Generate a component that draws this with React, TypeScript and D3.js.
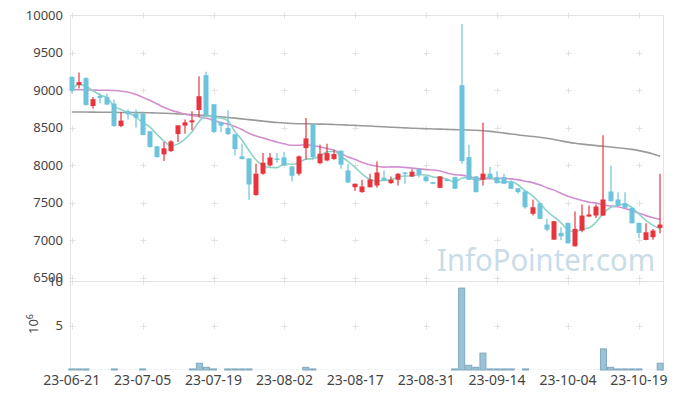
import React from 'react';
import * as d3 from 'd3';

const W = 673;
const H = 399;

const open = [9175,9068,9158,8787,8921,8904,8819,8520,8716,8686,8686,8449,8249,8142,8186,8413,8525,8569,8734,9198,8810,8573,8493,8409,8115,8088,7600,7884,7994,8088,8101,7981,7884,8226,8543,8025,8061,8079,8191,7928,7704,7638,7704,7727,7830,7758,7803,7901,7848,7945,7848,7771,7696,7807,7838,9064,8105,7848,7803,7884,7838,7838,7771,7691,7647,7349,7490,7206,7005,7095,7228,6916,7125,7313,7326,7326,7647,7540,7490,7429,7228,7001,7037,7161];
const high = [9185,9234,9170,8908,8953,8953,8873,8707,8739,8739,8700,8455,8255,8306,8329,8529,8606,8716,9184,9242,8815,8580,8730,8415,8285,8092,8017,8159,8159,8159,8172,7985,8128,8627,8548,8271,8285,8204,8195,8017,7755,7803,7884,8048,7928,7848,7890,7905,7945,7950,7852,7775,7852,7812,7842,9880,8271,7852,8565,7972,7918,7884,7794,7695,7650,7540,7495,7282,7254,7170,7232,7379,7473,7460,7473,8396,7995,7638,7638,7433,7232,7223,7148,7884];
const low = [8953,9020,8790,8753,8819,8800,8510,8503,8606,8499,8396,8235,8100,8052,8175,8306,8418,8462,8640,8650,8426,8436,8400,8128,8075,7536,7590,7870,7981,8031,7990,7781,7860,8075,8075,8010,8050,8070,7950,7760,7654,7630,7700,7696,7790,7750,7727,7750,7840,7838,7767,7745,7690,7782,7680,8017,7800,7634,7727,7818,7755,7747,7680,7616,7416,7326,7279,7116,7001,7001,6952,6912,7103,7310,7295,7322,7514,7457,7426,7220,7028,6998,7005,7090];
const close = [8988,9104,8801,8877,8894,8806,8520,8592,8676,8632,8400,8239,8105,8222,8315,8529,8569,8596,8917,8663,8440,8525,8413,8212,8079,7740,7884,8031,8101,8071,7994,7857,8115,8355,8105,8151,8159,8146,8004,7767,7750,7714,7807,7901,7794,7803,7884,7884,7910,7874,7785,7750,7848,7787,7683,8052,7803,7638,7884,7821,7758,7750,7683,7638,7437,7437,7282,7139,7250,7049,6956,7148,7326,7340,7446,7540,7517,7460,7429,7223,7095,7103,7126,7206];
// volume in millions of shares
const volume = [0.12,0.12,0.12,0.02,0.02,0.02,0.12,0.02,0.02,0.02,0.12,0.02,0.02,0.02,0.02,0.02,0.02,0.12,0.76,0.3,0.12,0.02,0.12,0.12,0.12,0.12,0.02,0.02,0.02,0.02,0.02,0.02,0.02,0.3,0.12,0.02,0.02,0.02,0.02,0.02,0.02,0.02,0.02,0.02,0.02,0.02,0.02,0.02,0.02,0.02,0.02,0.02,0.02,0.02,0.12,9.2,0.53,0.3,1.9,0.12,0.12,0.12,0.12,0.02,0.12,0.02,0.02,0.02,0.02,0.02,0.02,0.02,0.02,0.02,0.02,2.37,0.3,0.12,0.12,0.12,0.12,0.02,0.02,0.76];
// moving-average values before enough closes are on screen
const ma5Head = [9005, 9075, 9050, 8990];
const ma20Head = [9007,9004,9001,9000,8997,8997,8993,8984,8970,8944,8904,8864,8817,8770,8730,8703,8676,8663,8643];
const ma60 = [8707,8706,8706,8705,8704,8703,8702,8701,8700,8699,8698,8696,8694,8691,8687,8682,8677,8671,8665,8658,8651,8643,8634,8625,8615,8605,8595,8585,8575,8566,8559,8554,8551,8549,8547,8545,8543,8540,8536,8532,8528,8524,8519,8514,8509,8504,8499,8495,8491,8487,8484,8481,8478,8475,8472,8470,8467,8463,8457,8448,8437,8425,8413,8401,8391,8381,8370,8356,8340,8322,8305,8290,8278,8268,8258,8249,8240,8230,8220,8208,8192,8172,8147,8118];

const priceTicks = [10000, 9500, 9000, 8500, 8000, 7500, 7000, 6500];
const volTicks = [5, 10];
const xTickIdx = [0, 10, 20, 30, 40, 50, 60, 70, 80];
const xTickLabels = ['23-06-21','23-07-05','23-07-19','23-08-02','23-08-17','23-08-31','23-09-14','23-10-04','23-10-19'];

function movingAvg(vals: number[], n: number, head: number[]) {
  return vals.map((_, i) => (i < n - 1 ? head[i] : (d3.mean(vals.slice(i - n + 1, i + 1)) as number)));
}

const L = 70, R = 663, TOP = 15, SEP = 281, VBOT = 370;
const FONT = '"Noto Sans", "DejaVu Sans", sans-serif';

export default function App() {
  const x = d3.scaleLinear().domain([-0.25, 83.4]).range([L, R]);
  const y = d3.scaleLinear().domain([6500, 10000]).range([277.5, TOP]);
  const yv = d3.scaleLinear().domain([0, 10]).range([VBOT, SEP]);
  const ma5 = movingAvg(close, 5, ma5Head);
  const ma20 = movingAvg(close, 20, ma20Head);
  const line = d3.line<number>().x((_, i) => x(i)).y((d) => y(d)).curve(d3.curveMonotoneX);
  const up = '#e8353d';
  const down = '#6cc3dc';
  const cw = 5;
  const vw = 6;
  const cross = (cx: number, cy: number, key: string) => (
    <g key={key} stroke="#e2e2e2" strokeWidth={1}>
      <line x1={cx - 3} x2={cx + 3} y1={cy} y2={cy} />
      <line x1={cx} x2={cx} y1={cy - 3} y2={cy + 3} />
    </g>
  );
  return (
    <svg width={W} height={H} style={{ position: 'absolute', left: 0, top: 0, background: '#fff' }} fontFamily={FONT}>
      {/* frame */}
      <g stroke="#e4e4e4" strokeWidth={1} fill="none">
        <line x1={L + 0.5} x2={L + 0.5} y1={TOP} y2={VBOT} />
        <line x1={R + 0.5} x2={R + 0.5} y1={TOP} y2={VBOT} />
        <line x1={L} x2={R} y1={TOP + 0.5} y2={TOP + 0.5} />
        <line x1={L} x2={R} y1={SEP + 0.5} y2={SEP + 0.5} />
      </g>
      {/* grid crosses */}
      {priceTicks.map((p) => xTickIdx.map((i) => cross(Math.round(x(i)) + 0.5, Math.round(y(p)) + 0.5, `p${p}-${i}`)))}
      {volTicks.map((v) => xTickIdx.map((i) => cross(Math.round(x(i)) + 0.5, Math.round(yv(v)) + 0.5, `v${v}-${i}`)))}
      {/* watermark */}
      <text x={437} y={271} fontSize={31} fill="#c9dce7" textLength={218} lengthAdjust="spacingAndGlyphs" fontFamily={FONT}>InfoPointer.com</text>
      {/* price axis labels */}
      {priceTicks.map((p) => (
        <text key={`pt${p}`} x={63} y={y(p)} dy="0.35em" textAnchor="end" fontSize={13} fill="#444">{p}</text>
      ))}
      {volTicks.map((v) => (
        <text key={`vt${v}`} x={63} y={yv(v)} dy="0.35em" textAnchor="end" fontSize={13} fill="#444">{v}</text>
      ))}
      <text transform="translate(38,324) rotate(-90)" textAnchor="middle" fontSize={13} fill="#444">
        10<tspan dy={-5} fontSize={9}>6</tspan>
      </text>
      {/* x labels */}
      {xTickIdx.map((i, k) => (
        <text key={`xt${i}`} x={x(i)} y={385} textAnchor="middle" fontSize={14} fill="#444">{xTickLabels[k]}</text>
      ))}
      {/* moving averages */}
      <path d={line(ma60) || ''} fill="none" stroke="#9a9a9a" strokeWidth={1.6} />
      <path d={line(ma20) || ''} fill="none" stroke="#d28fcf" strokeWidth={1.6} />
      <path d={line(ma5) || ''} fill="none" stroke="#8dd3c8" strokeWidth={1.6} />
      {/* candles */}
      {close.map((c, i) => {
        const o = open[i];
        const isUp = c >= o;
        const col = isUp ? up : down;
        const cx = Math.round(x(i));
        const top = y(Math.max(o, c));
        const bot = y(Math.min(o, c));
        return (
          <g key={`c${i}`}>
            <line x1={cx} x2={cx} y1={y(high[i])} y2={y(low[i])} stroke={col} strokeWidth={1.2} />
            <rect x={cx - cw / 2} y={top} width={cw} height={Math.max(1.5, bot - top)} fill={col} />
          </g>
        );
      })}
      {/* volume bars */}
      {volume.map((v, i) => {
        const cx = x(i);
        const h = yv(0) - yv(v);
        return (
          <rect key={`v${i}`} x={cx - vw / 2} y={yv(v)} width={vw} height={h}
            fill="#9cc3d5" stroke={v >= 0.05 ? '#7fa9be' : 'none'} strokeWidth={1} />
        );
      })}
    </svg>
  );
}
